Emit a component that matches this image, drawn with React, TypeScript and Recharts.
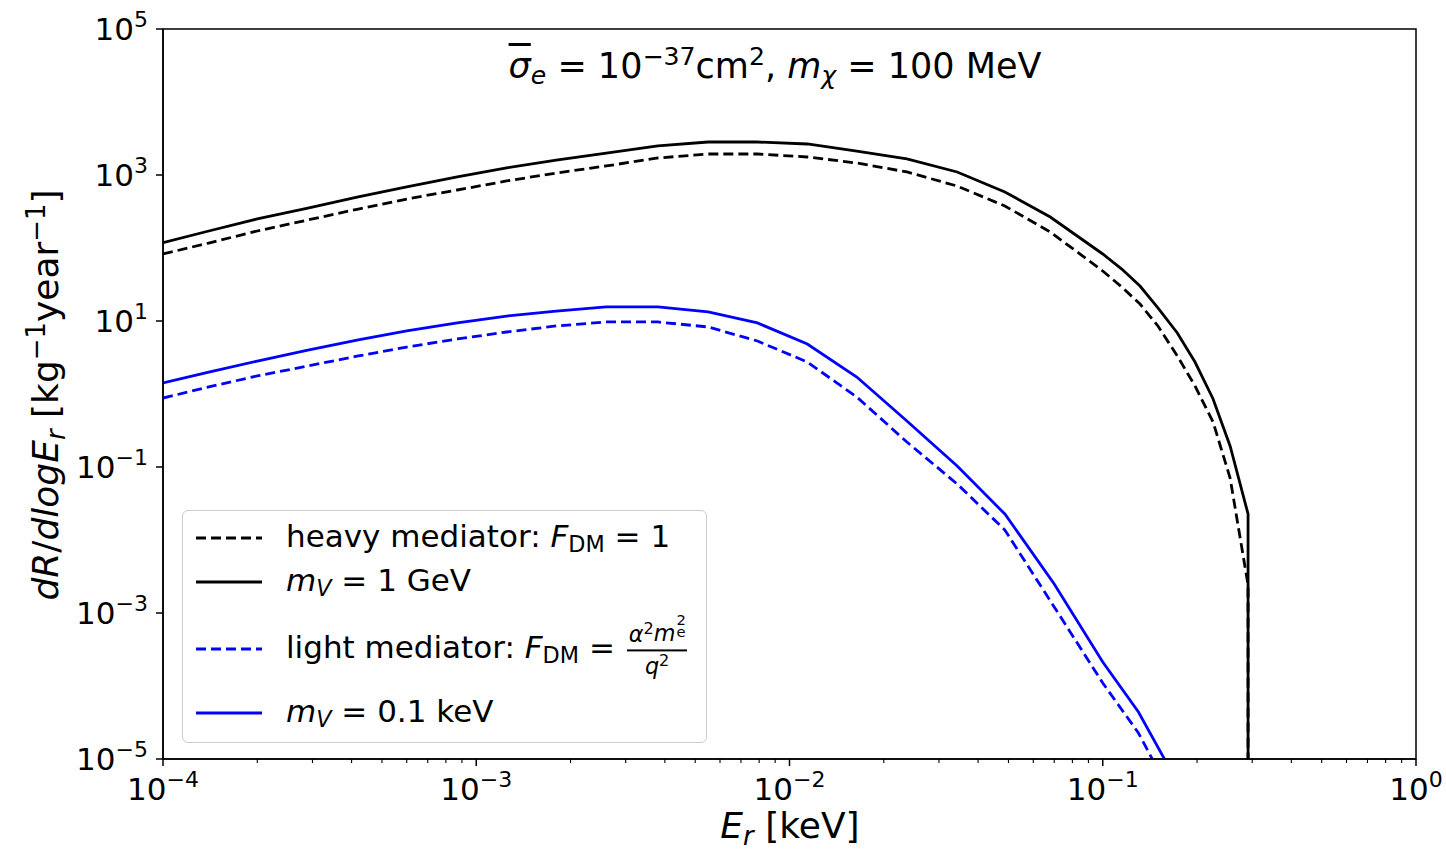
import React from "react";
import { LineChart, Line, XAxis, YAxis, ReferenceArea } from "recharts";

// recoil energy grid (keV) for the black curves; the last point repeats to drop the kinematic cutoff
const erBlack = [
  1e-4, 1.4e-4, 2e-4, 2.9e-4, 4.2e-4, 6e-4, 8.7e-4, 1.25e-3, 1.8e-3, 2.6e-3, 3.8e-3, 5.5e-3, 7.9e-3,
  0.0114, 0.0164, 0.0237, 0.0343, 0.0487, 0.068, 0.1, 0.115, 0.1315, 0.15, 0.173, 0.197, 0.225, 0.255,
  0.291, 0.291,
];
// heavy mediator, F_DM = 1
const rateHeavy = [
  82.8, 117, 171, 242, 342, 469, 623, 828, 1065, 1330, 1710, 1940, 1940, 1765, 1460, 1100, 706, 376,
  166, 48.4, 29.2, 17.1, 8.55, 3.32, 1.29, 0.413, 0.0706, 0.00242, 1e-7,
];
// m_V = 1 GeV
const rate1GeV = [
  118, 171, 250, 353, 500, 685, 940, 1250, 1600, 2000, 2500, 2830, 2830, 2660, 2130, 1660, 1100, 585,
  266, 82.8, 51.5, 30.1, 15.1, 6.85, 2.74, 0.855, 0.194, 0.0227, 1e-7,
];

// recoil energy grid (keV) for the blue curves
const erBlue = [
  1e-4, 1.4e-4, 2e-4, 2.9e-4, 4.2e-4, 6e-4, 8.7e-4, 1.25e-3, 1.8e-3, 2.6e-3, 3.8e-3, 5.5e-3, 7.9e-3,
  0.0114, 0.0164, 0.0237, 0.0343, 0.0487, 0.07, 0.1, 0.13, 0.17,
];
// light mediator, F_DM = alpha^2 m_e^2 / q^2
const rateLight = [
  0.88, 1.25, 1.77, 2.42, 3.32, 4.4, 5.67, 7.07, 8.55, 9.7, 9.7, 8.28, 5.32, 2.74, 0.91, 0.22, 0.0585,
  0.0137, 0.00121, 1.1e-4, 2.27e-5, 2.6e-6,
];
// m_V = 0.1 keV
const rate01keV = [
  1.42, 2.0, 2.83, 4.0, 5.5, 7.3, 9.4, 11.7, 13.7, 15.6, 15.6, 13.3, 9.4, 4.84, 1.71, 0.427, 0.103,
  0.0227, 0.0025, 2.13e-4, 4.4e-5, 5.5e-6,
];

const xExponents = [-4, -3, -2, -1, 0];
const yExponents = [-5, -3, -1, 1, 3, 5];

const FONT = "'DejaVu Sans', sans-serif";
const BLUE = "#0000ff";
const TICK_SIZE = 31;

const zip = (xs: number[], ys: number[]) => xs.map((x, i) => ({ x, y: ys[i] }));

const xMajor = xExponents.map((e) => Math.pow(10, e));
const xMinor: number[] = [];
xExponents.slice(0, -1).forEach((e) => {
  for (let k = 2; k <= 9; k++) xMinor.push(k * Math.pow(10, e));
});
const xTicks = [...xMajor, ...xMinor].sort((a, b) => a - b);
const yTicks = yExponents.map((e) => Math.pow(10, e));

const expLabel = (v: number) => {
  const e = Math.round(Math.log10(v));
  return e < 0 ? `\u2212${-e}` : `${e}`;
};
const isMajor = (v: number) => {
  const e = Math.log10(v);
  return Math.abs(e - Math.round(e)) < 1e-6;
};

function XTick(props: any) {
  const { x, y, payload } = props;
  const major = isMajor(payload.value);
  return (
    <g>
      <line x1={x} x2={x} y1={y} y2={y + (major ? 7 : 4)} stroke="#000" strokeWidth={major ? 1.5 : 1.1} />
      {major && (
        <text x={x} y={y + 41} textAnchor="middle" fontSize={TICK_SIZE} fontFamily={FONT} fill="#000">
          <tspan>10</tspan>
          <tspan dy={-13} fontSize={22}>
            {expLabel(payload.value)}
          </tspan>
        </text>
      )}
    </g>
  );
}

function YTick(props: any) {
  const { x, y, payload } = props;
  return (
    <g>
      <line x1={x} x2={x - 7} y1={y} y2={y} stroke="#000" strokeWidth={1.5} />
      <text x={x - 15} y={y + 11} textAnchor="end" fontSize={TICK_SIZE} fontFamily={FONT} fill="#000">
        <tspan>10</tspan>
        <tspan dy={-13} fontSize={22}>
          {expLabel(payload.value)}
        </tspan>
      </text>
    </g>
  );
}

const Sub = ({ children, italic }: { children: React.ReactNode; italic?: boolean }) => (
  <span style={{ fontSize: "0.72em", verticalAlign: "-0.25em", fontStyle: italic ? "italic" : "normal" }}>
    {children}
  </span>
);
const Sup = ({ children }: { children: React.ReactNode }) => (
  <span style={{ fontSize: "0.72em", verticalAlign: "0.5em" }}>{children}</span>
);
const I = ({ children }: { children: React.ReactNode }) => <span style={{ fontStyle: "italic" }}>{children}</span>;

// m with a stacked superscript 2 and subscript e
function MeSquared() {
  return (
    <span>
      <I>m</I>
      <span style={{ position: "relative", display: "inline-block", width: "0.45em", height: "1em" }}>
        <span style={{ position: "absolute", left: 1, top: "-0.42em", fontSize: "0.66em", lineHeight: 1 }}>2</span>
        <span style={{ position: "absolute", left: 1, top: "0.42em", fontSize: "0.66em", lineHeight: 1 }}>e</span>
      </span>
    </span>
  );
}

function Fraction() {
  return (
    <span
      style={{
        display: "inline-flex",
        flexDirection: "column",
        alignItems: "center",
        verticalAlign: "middle",
        fontSize: "0.72em",
        lineHeight: 1.05,
        marginLeft: 2,
      }}
    >
      <span style={{ borderBottom: "2px solid #000", padding: "0 2px 3px" }}>
        <I>α</I>
        <Sup>2</Sup>
        <MeSquared />
      </span>
      <span style={{ paddingTop: 2 }}>
        <I>q</I>
        <Sup>2</Sup>
      </span>
    </span>
  );
}

const legendRows: { y: number; color: string; dash?: string; label: React.ReactNode }[] = [
  {
    y: 537,
    color: "#000",
    dash: "10 5",
    label: (
      <>
        heavy mediator: <I>F</I>
        <Sub>DM</Sub> = 1
      </>
    ),
  },
  {
    y: 581,
    color: "#000",
    label: (
      <>
        <I>m</I>
        <Sub italic>V</Sub> = 1 GeV
      </>
    ),
  },
  {
    y: 648,
    color: BLUE,
    dash: "10 5",
    label: (
      <>
        light mediator: <I>F</I>
        <Sub>DM</Sub> = <Fraction />
      </>
    ),
  },
  {
    y: 712,
    color: BLUE,
    label: (
      <>
        <I>m</I>
        <Sub italic>V</Sub> = 0.1 keV
      </>
    ),
  },
];

function Legend() {
  const top = 510;
  const left = 182;
  return (
    <div
      style={{
        position: "absolute",
        left,
        top,
        width: 525,
        height: 233,
        boxSizing: "border-box",
        border: "1.5px solid #cccccc",
        borderRadius: 6,
        background: "rgba(255,255,255,0.85)",
        fontFamily: FONT,
        fontSize: 31,
        color: "#000",
      }}
    >
      {legendRows.map((r, i) => (
        <React.Fragment key={i}>
          <svg style={{ position: "absolute", left: 13, top: r.y - top - 6 }} width={68} height={12}>
            <line x1={0} x2={66} y1={6} y2={6} stroke={r.color} strokeWidth={3} strokeDasharray={r.dash} />
          </svg>
          <div
            style={{
              position: "absolute",
              left: 103,
              top: r.y - top,
              transform: "translateY(-50%)",
              whiteSpace: "nowrap",
              lineHeight: 1,
            }}
          >
            {r.label}
          </div>
        </React.Fragment>
      ))}
    </div>
  );
}

export default function App() {
  return (
    <div style={{ position: "absolute", left: 0, top: 0, width: 1446, height: 854, background: "#fff" }}>
      <LineChart width={1446} height={854} margin={{ top: 29, right: 30, bottom: 35, left: 63 }}>
        <XAxis
          dataKey="x"
          type="number"
          scale="log"
          domain={[1e-4, 1]}
          allowDataOverflow
          ticks={xTicks}
          interval={0}
          tick={<XTick />}
          tickLine={false}
          tickSize={0}
          tickMargin={0}
          height={60}
          axisLine={{ stroke: "#000", strokeWidth: 1.5 }}
        />
        <YAxis
          dataKey="y"
          type="number"
          scale="log"
          domain={[1e-5, 1e5]}
          allowDataOverflow
          ticks={yTicks}
          interval={0}
          tick={<YTick />}
          tickLine={false}
          tickSize={0}
          tickMargin={0}
          width={100}
          axisLine={{ stroke: "#000", strokeWidth: 1.5 }}
        />
        <ReferenceArea x1={1e-4} x2={1} y1={1e-5} y2={1e5} fill="none" stroke="#000" strokeWidth={1.5} ifOverflow="visible" />
        <Line data={zip(erBlack, rateHeavy)} dataKey="y" stroke="#000" strokeWidth={2.8} strokeDasharray="10 5" dot={false} activeDot={false} isAnimationActive={false} />
        <Line data={zip(erBlack, rate1GeV)} dataKey="y" stroke="#000" strokeWidth={2.8} dot={false} activeDot={false} isAnimationActive={false} />
        <Line data={zip(erBlue, rateLight)} dataKey="y" stroke={BLUE} strokeWidth={2.8} strokeDasharray="10 5" dot={false} activeDot={false} isAnimationActive={false} />
        <Line data={zip(erBlue, rate01keV)} dataKey="y" stroke={BLUE} strokeWidth={2.8} dot={false} activeDot={false} isAnimationActive={false} />
      </LineChart>

      {/* title */}
      <div
        style={{
          position: "absolute",
          left: 775,
          top: 44,
          transform: "translateX(-50%)",
          fontFamily: FONT,
          fontSize: 35,
          lineHeight: 1,
          whiteSpace: "nowrap",
          color: "#000",
        }}
      >
        <I>
          <span style={{ textDecoration: "overline" }}>σ</span>
        </I>
        <Sub italic>e</Sub> = 10<Sup>−37</Sup>cm<Sup>2</Sup>, <I>m</I>
        <Sub italic>χ</Sub> = 100 MeV
      </div>

      {/* y axis label */}
      <div
        style={{
          position: "absolute",
          left: 47,
          top: 395,
          transform: "translate(-50%, -50%) rotate(-90deg)",
          fontFamily: FONT,
          fontSize: 36,
          lineHeight: 1,
          whiteSpace: "nowrap",
          color: "#000",
        }}
      >
        <I>dR</I>/<I>dlogE</I>
        <Sub italic>r</Sub> [kg<Sup>−1</Sup>year<Sup>−1</Sup>]
      </div>

      {/* x axis label */}
      <div
        style={{
          position: "absolute",
          left: 790,
          top: 829,
          transform: "translate(-50%, -50%)",
          fontFamily: FONT,
          fontSize: 36,
          lineHeight: 1,
          whiteSpace: "nowrap",
          color: "#000",
        }}
      >
        <I>E</I>
        <Sub italic>r</Sub> [keV]
      </div>

      <Legend />
    </div>
  );
}
